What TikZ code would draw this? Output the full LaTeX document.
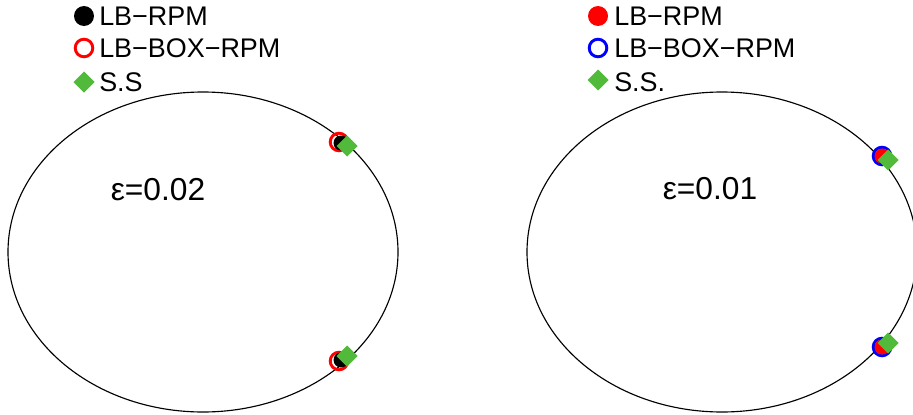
\documentclass[tikz,border=0pt]{standalone}
\usepackage{fontspec}
\setmainfont{Liberation Sans}
\definecolor{ssgreen}{RGB}{82,186,58}
\definecolor{mred}{RGB}{255,0,0}
\definecolor{mblue}{RGB}{0,0,255}
\begin{document}
\begin{tikzpicture}[x=0.75pt,y=-0.75pt,
  legtext/.style={anchor=base west,inner sep=0pt,font=\fontsize{20.2}{24}\selectfont},
  epstext/.style={inner sep=0pt,font=\fontsize{23.8}{28}\selectfont},
  orbit/.style={draw=black,line width=0.85pt},
  ring/.style={draw=#1,line width=2.2pt,fill=none},
  dot/.style={fill=#1,draw=none},
  ssmark/.style={fill=ssgreen,draw=none}]
\useasboundingbox (0,0) rectangle (913,414);
\fill[white] (0,0) rectangle (913,414);
% ---------- left panel ----------
\draw[orbit] (203,252) ellipse [x radius=195, y radius=160];
\node[epstext] (epsL) at (158,190) {ε=0.02};
% legend
\fill[dot=black] (84,16) circle [radius=10];
\draw[ring=mred] (84,48) circle [radius=8.8];
\fill[ssgreen] (84,71.5) -- (94.5,82) -- (84,92.5) -- (73.5,82) -- cycle;
\node[legtext] (l1) at (99,25.5) {LB−RPM};
\node[legtext] (l2) at (99,57.5) {LB−BOX−RPM};
\node[legtext] (l3) at (99,91.5) {S.S};
% markers
\draw[ring=mred] (339,142) circle [radius=8.8];
\fill[dot=black] (341,143) circle [radius=7.5];
\fill[ssmark] (347,135.5) -- (357.5,146) -- (347,156.5) -- (336.5,146) -- cycle;
\draw[ring=mred] (339,361) circle [radius=8.8];
\fill[dot=black] (341,360) circle [radius=7.5];
\fill[ssmark] (347,345.5) -- (357.5,356) -- (347,366.5) -- (336.5,356) -- cycle;
% ---------- right panel ----------
\draw[orbit] (722,252) ellipse [x radius=195, y radius=160];
\node[epstext] (epsR) at (710,189) {ε=0.01};
% legend
\fill[dot=mred] (598,16) circle [radius=10];
\draw[ring=mblue] (598,48) circle [radius=8.8];
\fill[ssmark] (598,69.5) -- (608.5,80) -- (598,90.5) -- (587.5,80) -- cycle;
\node[legtext] (r1) at (614,25.5) {LB−RPM};
\node[legtext] (r2) at (614,57.5) {LB−BOX−RPM};
\node[legtext] (r3) at (614,91.5) {S.S.};
% markers
\draw[ring=mblue] (882,156) circle [radius=8.8];
\fill[dot=mred] (882,156) circle [radius=7.5];
\fill[ssmark] (888,149.5) -- (898.5,160) -- (888,170.5) -- (877.5,160) -- cycle;
\draw[ring=mblue] (882,347) circle [radius=8.8];
\fill[dot=mred] (882,347) circle [radius=7.5];
\fill[ssmark] (888,332.5) -- (898.5,343) -- (888,353.5) -- (877.5,343) -- cycle;
\end{tikzpicture}
\end{document}
